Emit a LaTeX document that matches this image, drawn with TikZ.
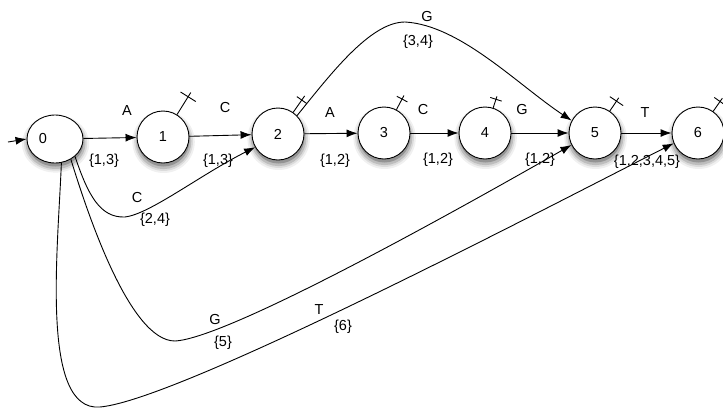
\documentclass[tikz,border=0pt]{standalone}
\usepackage{fontspec}
\setmainfont{Liberation Sans}
\usetikzlibrary{arrows.meta,shapes.geometric,shadows}
\newcommand\finmark[5]{%
  \path (#1.#2) ++(#2:#4pt) coordinate (fm);
  \draw[fin] (#1.#2) -- ++(#2:#3pt);
  \draw[fin] ([shift={(#2+90:#5pt)}]fm) -- ([shift={(#2-90:#5pt)}]fm);
}
\begin{document}
\begin{tikzpicture}[x=1pt,y=-1pt,
  shade/.style={
    general shadow={shadow scale=1.2,shadow xshift=0.5pt,shadow yshift=-4pt,fill=black!6},
    general shadow={shadow scale=1.13,shadow xshift=0.5pt,shadow yshift=-4pt,fill=black!14},
    general shadow={shadow scale=1.07,shadow xshift=0.5pt,shadow yshift=-4pt,fill=black!26},
    general shadow={shadow scale=1.0,shadow xshift=0.5pt,shadow yshift=-3.5pt,fill=black!42}},
  state/.style={circle,draw,line width=0.9pt,fill=white,minimum size=52pt,inner sep=0pt,
    font=\fontsize{14.5}{16}\selectfont,shade},
  lbl/.style={font=\fontsize{14.5}{16}\selectfont,inner sep=0pt},
  arr/.style={line width=0.9pt,-{Latex[length=11pt,width=8pt]}},
  fin/.style={line width=0.9pt}]
\useasboundingbox (0,0) rectangle (723,410);
% states
\node[state,ellipse,minimum width=56pt,minimum height=48pt,label={[lbl,xshift=-12pt]center:0}] (n0) at (55,139) {};
\node[state] (n1) at (163,137) {1};
\node[state] (n2) at (278,134) {2};
\node[state] (n3) at (384,133) {3};
\node[state] (n4) at (485,133) {4};
\node[state] (n5) at (595,133) {5};
\node[state] (n6) at (698,133) {6};
% final marks
\finmark{n1}{58}{26}{21}{9}
\finmark{n2}{55}{20}{15}{6}
\finmark{n3}{62}{16}{12}{6}
\finmark{n4}{72}{12}{9}{6}
\finmark{n5}{56}{16}{12}{8}
\finmark{n6}{55}{16}{12}{7}
% initial arrow
\coordinate (init) at (8,142);
\draw[arr] (init) -- (n0.west);
% straight edges
\draw[arr] (n0) -- (n1);
\draw[arr] (n1) -- (n2);
\draw[arr] (n2) -- (n3);
\draw[arr] (n3) -- (n4);
\draw[arr] (n4) -- (n5);
\draw[arr] (n5) -- (n6);
% curved edges
\draw[arr] (n0.-41) .. controls (88,195) and (100,218) .. (125,217)
  .. controls (150,214) and (200,175) .. (n2.-150);
\draw[arr] (n0.-52) .. controls (88,215) and (130,341) .. (175,341)
  .. controls (230,338) and (468,204) .. (n5.-153);
\draw[arr] (n0.-75) .. controls (58,250) and (40,412) .. (100,407)
  .. controls (180,400) and (550,206) .. (n6.-157);
\draw[arr] (n2.44) .. controls (330,75) and (370,22) .. (405,22)
  .. controls (460,25) and (518,85) .. (n5.152);
% labels
\node[lbl] (lA1) at (127,111) {A};
\node[lbl] (l13a) at (104,161) {\{1,3\}};
\node[lbl] (lC1) at (225,108) {C};
\node[lbl] (l13b) at (218,161) {\{1,3\}};
\node[lbl] (lC2) at (137,198) {C};
\node[lbl] (l24) at (155,220) {\{2,4\}};
\node[lbl] (lA2) at (330,113) {A};
\node[lbl] (l12a) at (335,161) {\{1,2\}};
\node[lbl] (lC3) at (423,110) {C};
\node[lbl] (l12b) at (438,160) {\{1,2\}};
\node[lbl] (lG1) at (522,110) {G};
\node[lbl] (l12c) at (540,160) {\{1,2\}};
\node[lbl] (lT1) at (645,113) {T};
\node[lbl] (l12345) at (647,162) {\{1,2,3,4,5\}};
\node[lbl] (lG2) at (427,17) {G};
\node[lbl] (l34) at (418,42) {\{3,4\}};
\node[lbl] (lG3) at (215,320) {G};
\node[lbl] (l5) at (223,343) {\{5\}};
\node[lbl] (lT2) at (319,310) {T};
\node[lbl] (l6) at (343,327) {\{6\}};
\end{tikzpicture}
\end{document}
